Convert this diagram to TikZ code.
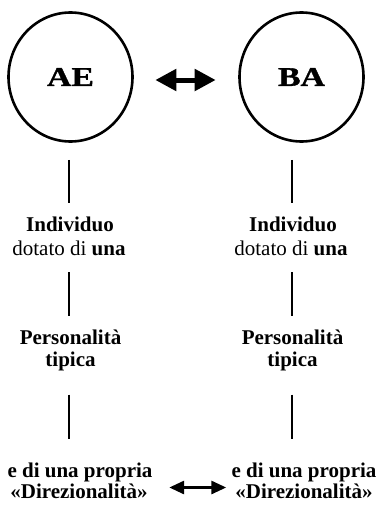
\documentclass[tikz,border=0pt]{standalone}
\usepackage{fontspec}
\usepackage{graphicx}
\setmainfont{Liberation Serif}
\newfontface\heavyface[FakeBold=1.2]{Liberation Serif Bold}
\usetikzlibrary{shapes.geometric,arrows.meta,calc}
\begin{document}
\begin{tikzpicture}[x=1pt,y=-1pt,
  bubble/.style={draw,ellipse,line width=2.6pt,minimum width=124pt,minimum height=129pt,inner sep=0pt},
  bigtxt/.style={font=\fontsize{27}{31}\selectfont\heavyface},
  txt/.style={inner sep=0pt,anchor=base,font=\fontsize{21}{25}\selectfont},
  btxt/.style={txt,font=\fontsize{21}{25}\selectfont\bfseries},
  vline/.style={line width=2.4pt},
  bigarrow/.style={line width=5pt,{Triangle[length=21pt,width=21pt]}-{Triangle[length=21pt,width=21pt]}},
  smallarrow/.style={line width=3pt,{Triangle[length=15pt,width=13pt]}-{Triangle[length=15pt,width=13pt]}}]
\useasboundingbox (0,0) rectangle (380,506);

% circles
\node[bubble,bigtxt] (ae) at (70.5,77) {\scalebox{1.25}[1]{AE}};
\node[bubble,bigtxt] (ba) at (301.5,77) {\scalebox{1.25}[1]{BA}};

% left column
\node[btxt] (ind1) at (70,231) {Individuo};
\node[txt] (dot1) at (69,255) {dotato di \textbf{una}};
\node[btxt] (per1) at (70.5,344) {Personalità};
\node[btxt] (tip1) at (70.5,366) {tipica};
\node[btxt] (pro1) at (80,477) {e di una propria};
\node[btxt] (dir1) at (79,498) {«Direzionalità»};

% right column
\node[btxt] (ind2) at (293,231) {Individuo};
\node[txt] (dot2) at (291,255) {dotato di \textbf{una}};
\node[btxt] (per2) at (292.5,344) {Personalità};
\node[btxt] (tip2) at (292.5,366) {tipica};
\node[btxt] (pro2) at (304,477) {e di una propria};
\node[btxt] (dir2) at (304,498) {«Direzionalità»};

% vertical connectors
\draw[vline] ([yshift=-17pt]ae.south -| dot1.south) -- ([yshift=13pt]ind1.north -| dot1.south);
\draw[vline] ([yshift=-17pt]dot1.south) -- ([yshift=13pt]per1.north -| dot1.south);
\draw[vline] ([yshift=-24pt]tip1.south -| dot1.south) -- ([yshift=23pt]pro1.north -| dot1.south);

\draw[vline] ([yshift=-17pt]ba.south -| 292,0) -- ([yshift=13pt]ind2.north -| 292,0);
\draw[vline] ([yshift=-17pt]dot2.south -| 292,0) -- ([yshift=13pt]per2.north -| 292,0);
\draw[vline] ([yshift=-24pt]tip2.south -| 292,0) -- ([yshift=23pt]pro2.north -| 292,0);

% horizontal double arrows
\draw[bigarrow,shorten <=21.5pt,shorten >=22.5pt] ([yshift=-3pt]ae.east) -- ([yshift=-3pt]ba.west);
\coordinate (ml) at ($(pro1.base east)!0.5!(dir1.base east)$);
\coordinate (mr) at ($(pro2.base west)!0.5!(dir2.base west)$);
\draw[smallarrow,shorten <=19pt,shorten >=7pt] (ml) -- (mr);
\end{tikzpicture}
\end{document}
